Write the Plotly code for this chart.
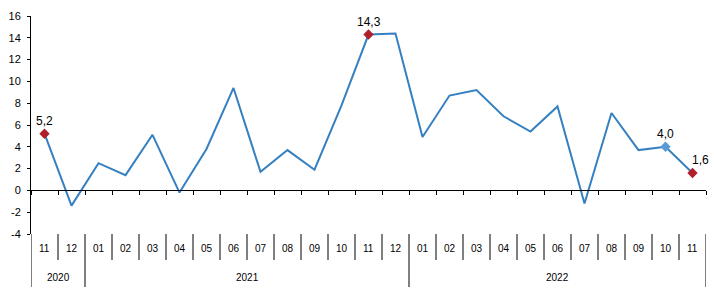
import plotly.graph_objects as go

# ---- data ----
months = ["11", "12",
          "01", "02", "03", "04", "05", "06", "07", "08", "09", "10", "11", "12",
          "01", "02", "03", "04", "05", "06", "07", "08", "09", "10", "11"]
years = ["2020", "2021", "2022"]
year_counts = [2, 12, 11]
values = [5.2, -1.4, 2.5, 1.4, 5.1, -0.2, 3.8, 9.4, 1.7, 3.7, 1.9, 7.8, 14.3,
          14.4, 4.9, 8.7, 9.2, 6.8, 5.4, 7.7, -1.2, 7.1, 3.7, 4.0, 1.6]
red_idx = [0, 12, 24]
blue_idx = [23]
y_ticks = [-4, -2, 0, 2, 4, 6, 8, 10, 12, 14, 16]
y_ticktext = ["-4", "-2", "0", "2", "4", "6", "8", "10", "12", "14", "16"]

n = len(values)
x = list(range(n))

LINE = "#3580C0"
RED = "#B0202A"
LBLUE = "#5B9BD5"
FONT = "Liberation Sans, Arial, sans-serif"

def fmt(v):
    return f"{v:.1f}".replace(".", ",")

fig = go.Figure()
fig.add_trace(go.Scatter(x=x, y=values, mode="lines",
                         line=dict(color=LINE, width=2), hoverinfo="skip"))

plot_h = 298 - 16 - 64
shapes = []
annotations = []

# highlighted points
for idxs, col in ((red_idx, RED), (blue_idx, LBLUE)):
    fig.add_trace(go.Scatter(
        x=[x[i] for i in idxs], y=[values[i] for i in idxs], mode="markers",
        marker=dict(symbol="diamond", size=8, color=col),
        cliponaxis=False, hoverinfo="skip"))
    for i in idxs:
        annotations.append(dict(
            x=x[i], y=values[i], xref="x", yref="y", text=fmt(values[i]),
            showarrow=False, yanchor="middle", xanchor="center",
            yshift=13, xshift=8 if i == n - 1 else 0,
            font=dict(family=FONT, size=12, color="black")))

year_bounds = [-0.5]
acc = -0.5
for c in year_counts:
    acc += c
    year_bounds.append(acc)

for i, m in enumerate(months):
    annotations.append(dict(x=i, y=-15 / plot_h, xref="x", yref="paper",
                            text=m, showarrow=False, yanchor="middle",
                            font=dict(family=FONT, size=10, color="black")))
for b in range(n + 1):
    xb = b - 0.5
    long = any(abs(xb - yb) < 1e-9 for yb in year_bounds)
    y1 = -53 / plot_h if long else -26 / plot_h
    shapes.append(dict(type="line", xref="x", yref="paper", x0=xb, x1=xb,
                       y0=0, y1=y1, line=dict(color="black", width=1)))

for k, yr in enumerate(years):
    cx = (year_bounds[k] + year_bounds[k + 1]) / 2
    annotations.append(dict(x=cx, y=-43 / plot_h, xref="x", yref="paper",
                            text=yr, showarrow=False, yanchor="middle",
                            font=dict(family=FONT, size=10, color="black")))

fig.update_layout(
    width=714, height=298,
    margin=dict(l=31, r=8, t=16, b=64),
    paper_bgcolor="white", plot_bgcolor="white",
    showlegend=False,
    font=dict(family=FONT, size=11, color="black"),
    xaxis=dict(range=[-0.5, n - 0.5], anchor="free", position=0.2,
               showline=True, linecolor="black", linewidth=1,
               ticks="outside", tickvals=[b - 0.5 for b in range(n + 1)],
               ticklen=4, tickcolor="black", showticklabels=False,
               showgrid=False, zeroline=False, fixedrange=True),
    yaxis=dict(range=[-4, 16], tickvals=y_ticks, ticktext=y_ticktext,
               showline=True, linecolor="black", linewidth=1,
               ticks="outside", ticklen=3, tickcolor="black",
               ticklabelstandoff=4,
               tickfont=dict(family=FONT, size=11, color="black"),
               showgrid=False, zeroline=False, fixedrange=True),
    shapes=shapes,
    annotations=annotations,
)

fig.write_html("out.html")
